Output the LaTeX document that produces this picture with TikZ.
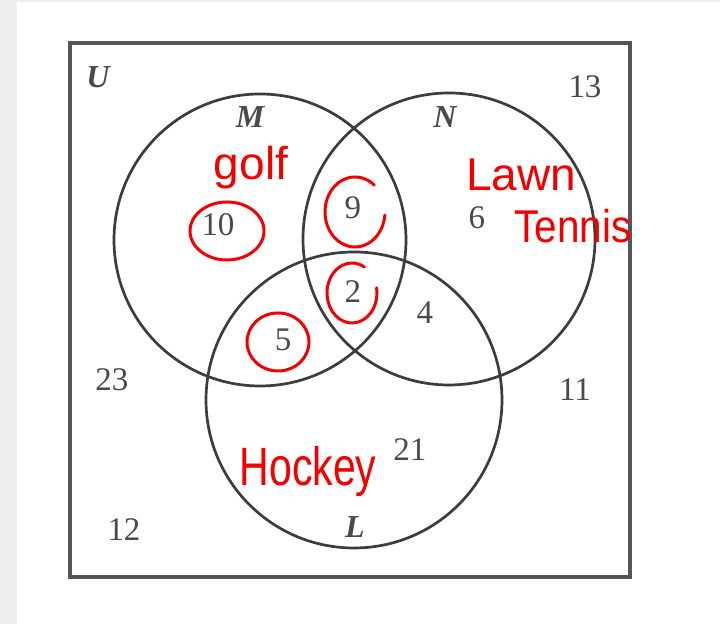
\documentclass[tikz,border=0pt]{standalone}
\usepackage{fontspec}
\setmainfont{Liberation Serif}
\newfontfamily\handfont{Liberation Sans}
\usepackage{xcolor}
\usepackage{tikz}
\usetikzlibrary{positioning}

\definecolor{ringgray}{HTML}{3C3C3C}
\definecolor{boxgray}{HTML}{555555}
\definecolor{numgray}{HTML}{4A4A4A}
\definecolor{pagegray}{HTML}{EFEFED}
\definecolor{penred}{HTML}{F20000}

\tikzset{
  num/.style={text=numgray, font=\fontsize{16.5}{16.5}\selectfont},
  setname/.style={text=numgray, font=\fontsize{16}{16}\selectfont\bfseries\itshape},
  hand/.style={text=penred, font=\handfont\fontsize{23}{23}\selectfont},
  ring/.style={draw=ringgray, line width=1.35pt},
  pen/.style={draw=penred, line width=1.5pt, line cap=round}
}

\begin{document}
\begin{tikzpicture}[x=0.5pt, y=0.5pt]
  % page
  \useasboundingbox (0,0) rectangle (720,624);
  \fill[white] (0,0) rectangle (720,624);
  \fill[pagegray] (0,0) rectangle (17,624);
  \fill[pagegray] (0,622) rectangle (720,624);

  % universal set
  \draw[draw=boxgray, line width=1.75pt] (70,47) rectangle (630,581);

  % the three sets
  \draw[ring] (260,384) circle[radius=146];
  \draw[ring] (449,385) circle[radius=146];
  \draw[ring] (354,224) circle[radius=148];

  %---- labels ----
  \node[setname] (U) at (98,547) {U};
  \node[setname] (M) at (250,507) {M};
  \node[setname] (N) at (445,507) {N};
  \node[setname] (L) at (355,97) {L};

  %---- numbers ----
  \node[num] (n10) at (218,399) {10};
  \node[num] (n9)  at (353,416) {9};
  \node[num] (n2)  at (353,332) {2};
  \node[num] (n5)  at (283,284) {5};
  \node[num] (n4)  at (425,311) {4};
  \node[num] (n6)  at (477,406) {6};
  \node[num] (n21) at (410,174) {21};
  \node[num] (n23) at (112,244) {23};
  \node[num] (n11) at (575,234) {11};
  \node[num] (n12) at (124,94)  {12};
  \node[num] (n13) at (585,537) {13};

  %---- red notes ----
  \node[hand, anchor=base] (golf) at (251,444) {golf};
  \node[hand, anchor=base] (lawn) at (521,433) {Lawn};
  \node[hand, anchor=base, xscale=0.88, transform shape] (tennis) at (573,381) {Tennis};
  \node[hand, anchor=base, font=\handfont\fontsize{27}{27}\selectfont,
        xscale=0.76, transform shape] (hockey) at (308,138) {Hockey};

  \draw[pen] (227,393) ellipse[x radius=37, y radius=29];
  \draw[pen] (355,412) ++(50:30 and 35) arc[start angle=50, end angle=355, x radius=30, y radius=35];
  \draw[pen] (352,331) ++(60:25 and 30) arc[start angle=60, end angle=370, x radius=25, y radius=30];
  \draw[pen] (278,282) ellipse[x radius=31, y radius=29];
\end{tikzpicture}
\end{document}
